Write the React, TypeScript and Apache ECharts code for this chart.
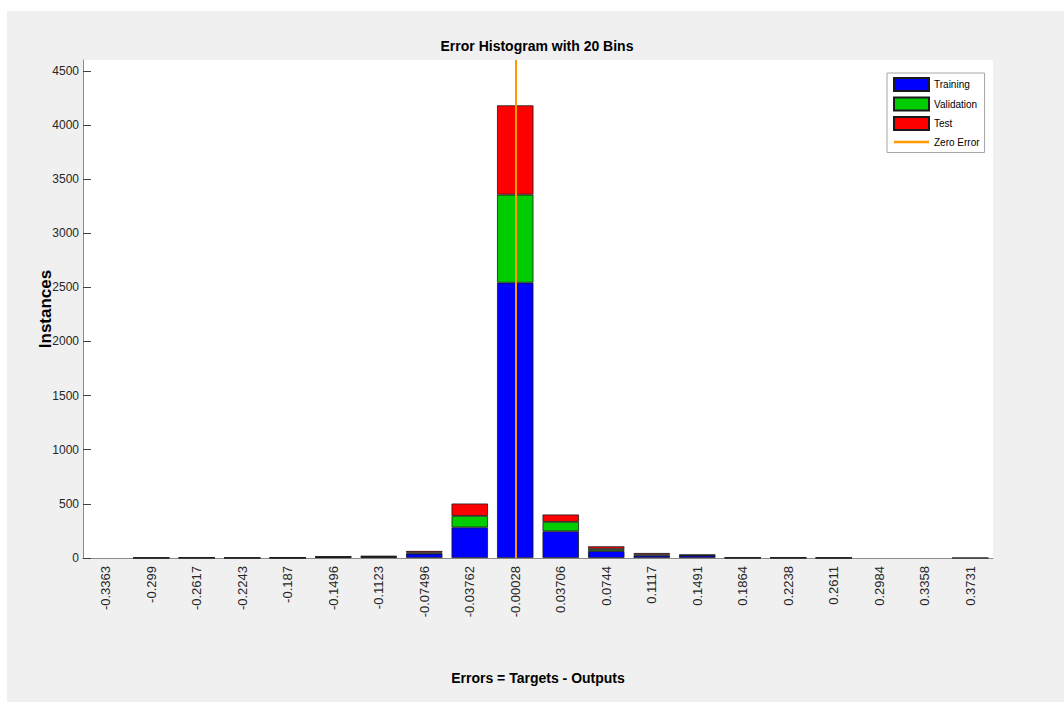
import React, { useEffect, useRef } from "react";
import * as echarts from "echarts";

const binCenters = [
  "-0.3363", "-0.299", "-0.2617", "-0.2243", "-0.187", "-0.1496", "-0.1123", "-0.07496",
  "-0.03762", "-0.00028", "0.03706", "0.0744", "0.1117", "0.1491", "0.1864", "0.2238",
  "0.2611", "0.2984", "0.3358", "0.3731",
];
const training = [0, 1, 2, 1, 2, 8, 10, 40, 282, 2543, 246, 64, 22, 22, 2, 2, 1, 0, 0, 1];
const validation = [0, 0, 1, 0, 1, 3, 3, 10, 107, 813, 88, 19, 10, 4, 1, 0, 0, 0, 0, 0];
const test = [0, 1, 0, 1, 1, 2, 6, 15, 114, 825, 68, 25, 14, 4, 0, 1, 1, 0, 0, 0];
const yTicks = [0, 500, 1000, 1500, 2000, 2500, 3000, 3500, 4000, 4500];
const zeroErrorBin = "-0.00028";

const FONT = "'Liberation Sans', Arial, Helvetica, sans-serif";

// empty bins draw no bar at all (as in the reference)
const hideEmpty = (arr: number[]) => arr.map((v) => (v === 0 ? "-" : v));

export default function App() {
  const ref = useRef<HTMLDivElement>(null);

  useEffect(() => {
    document.body.style.margin = "0";
    if (!ref.current) return;
    const chart = echarts.init(ref.current, null, { renderer: "svg" });
    const barItem = (color: string) => ({
      color,
      borderColor: "#1a1a1a",
      borderWidth: 0.8,
    });
    chart.setOption({
      animation: false,
      backgroundColor: "#ffffff",
      textStyle: { fontFamily: FONT },
      graphic: [
        {
          type: "rect",
          z: -10,
          silent: true,
          shape: { x: 7, y: 11, width: 1057, height: 691 },
          style: { fill: "#f0f0f0" },
        },
      ],
      title: {
        text: "Error Histogram with 20 Bins",
        left: 537,
        top: 39,
        textAlign: "center",
        padding: 0,
        textStyle: { fontFamily: FONT, fontSize: 14, fontWeight: "bold", color: "#000" },
      },
      legend: {
        orient: "vertical",
        left: 887,
        top: 73,
        itemWidth: 35,
        itemHeight: 13,
        itemGap: 4.5,
        padding: [4, 5, 4, 6],
        backgroundColor: "#ffffff",
        borderColor: "#a6a6a6",
        borderWidth: 1,
        textStyle: { fontFamily: FONT, fontSize: 10, color: "#000" },
        data: [
          { name: "Training", icon: "rect" },
          { name: "Validation", icon: "rect" },
          { name: "Test", icon: "rect" },
          {
            name: "Zero Error",
            icon: "path://M0 0 M0 5.25 L35 5.25 L35 7.75 L0 7.75 Z M35 13",
            itemStyle: { color: "#ff9900", borderWidth: 0 },
          },
        ],
      },
      grid: {
        left: 83,
        top: 60,
        width: 910,
        height: 498,
        show: true,
        backgroundColor: "#ffffff",
        borderWidth: 0,
      },
      xAxis: {
        type: "category",
        data: binCenters,
        boundaryGap: true,
        name: "Errors = Targets - Outputs",
        nameLocation: "middle",
        nameGap: 113,
        nameMoveOverlap: false,
        nameTextStyle: { fontFamily: FONT, fontSize: 14, fontWeight: "bold", color: "#000" },
        axisLine: { lineStyle: { color: "#8c8c8c", width: 1 } },
        axisTick: { alignWithLabel: true, inside: true, length: 10, lineStyle: { color: "#404040" } },
        axisLabel: { rotate: 90, margin: 8, fontSize: 13, color: "#262626", fontFamily: FONT, interval: 0 },
        splitLine: { show: false },
      },
      yAxis: {
        type: "value",
        min: 0,
        max: 4600,
        interval: 500,
        name: "Instances",
        nameLocation: "middle",
        nameGap: 29,
        nameMoveOverlap: false,
        nameTextStyle: { fontFamily: FONT, fontSize: 17, fontWeight: "bold", color: "#000" },
        axisLine: { show: true, lineStyle: { color: "#8c8c8c", width: 1 } },
        axisTick: { show: true, inside: true, length: 8, lineStyle: { color: "#404040" }, customValues: yTicks },
        axisLabel: {
          margin: 4,
          fontSize: 12,
          color: "#262626",
          fontFamily: FONT,
          customValues: yTicks,
          formatter: (v: number) => String(v),
        },
        splitLine: { show: false },
      },
      series: [
        {
          name: "Training",
          type: "bar",
          stack: "total",
          barWidth: "80%",
          data: hideEmpty(training),
          itemStyle: barItem("#0000ff"),
        },
        {
          name: "Validation",
          type: "bar",
          stack: "total",
          barWidth: "80%",
          data: hideEmpty(validation),
          itemStyle: barItem("#00cc00"),
        },
        {
          name: "Test",
          type: "bar",
          stack: "total",
          barWidth: "80%",
          data: hideEmpty(test),
          itemStyle: barItem("#ff0000"),
        },
        {
          name: "Zero Error",
          type: "line",
          symbol: "none",
          data: binCenters.map(() => null),
          z: 10,
          itemStyle: { color: "#ff9900" },
          lineStyle: { color: "#ff9900", width: 2 },
          markLine: {
            silent: true,
            symbol: ["none", "none"],
            label: { show: false },
            lineStyle: { color: "#ff9900", width: 2, type: "solid" },
            data: [{ xAxis: zeroErrorBin }],
          },
        },
      ],
    });
    return () => chart.dispose();
  }, []);

  return (
    <div
      ref={ref}
      style={{ position: "absolute", left: 0, top: 0, width: 1064, height: 702 }}
    />
  );
}
